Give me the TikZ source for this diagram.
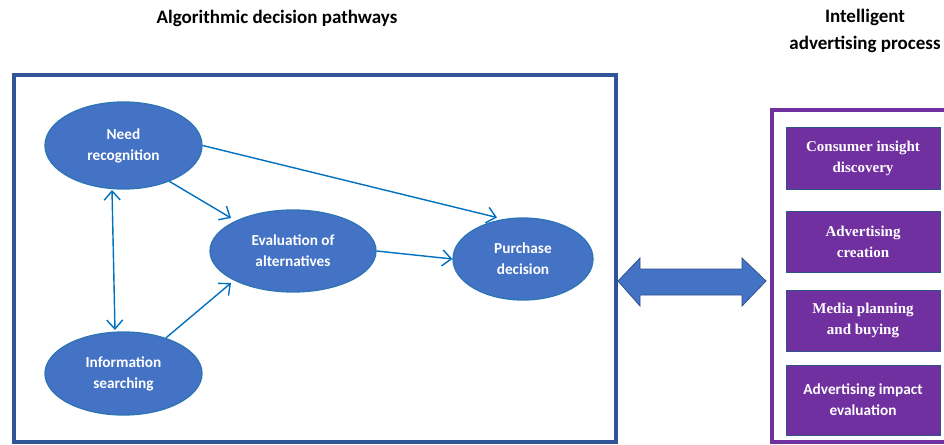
\documentclass[tikz,border=0pt]{standalone}
\usepackage{fontspec}
\setmainfont{Liberation Serif}
\newfontfamily\calib{Carlito}
\usetikzlibrary{arrows.meta,shapes.geometric}
\definecolor{ellfill}{HTML}{4472C4}
\definecolor{ellline}{HTML}{2E75B6}
\definecolor{arrblue}{HTML}{0070C0}
\definecolor{boxblue}{HTML}{2F5597}
\definecolor{purp}{HTML}{7030A0}
\definecolor{darkout}{HTML}{2F528F}
\tikzset{
  stage/.style={ellipse, fill=ellfill, draw=ellline, line width=1.3pt, text=white,
     font=\calib\bfseries\fontsize{15.3}{21}\selectfont, align=center, inner sep=0pt},
  flow/.style={draw=arrblue, line width=1.4pt, -{Straight Barb[length=9pt,width=16pt,line width=1.4pt]}},
  flowboth/.style={draw=arrblue, line width=1.4pt, {Straight Barb[length=9pt,width=16pt,line width=1.4pt]}-{Straight Barb[length=9pt,width=16pt,line width=1.4pt]}},
  adbox/.style={rectangle, fill=purp, draw=darkout, line width=0.8pt, text=white,
     minimum width=154pt, align=center, inner sep=0pt},
  title/.style={font=\calib\bfseries\fontsize{19}{27}\selectfont, align=center, text=black}
}
\begin{document}
\begin{tikzpicture}[x=1pt,y=-1pt]
\clip (0,0) rectangle (944,444);
\fill[white] (0,0) rectangle (944,444);
% titles
\node[title] (t1) at (277,18) {Algorithmic decision pathways};
\node[title] (t2) at (865,31) {Intelligent\\advertising process};
% containers
\draw[boxblue, line width=4pt] (13.5,74.5) rectangle (616,442);
\draw[purp, line width=4pt] (772,110) rectangle (950,442);
% stages
\node[stage, minimum width=157pt, minimum height=87pt] (need) at (123.5,145.5) {Need\\recognition};
\node[stage, minimum width=166pt, minimum height=82pt] (eval) at (293,251) {Evaluation of\\alternatives};
\node[stage, minimum width=157pt, minimum height=83pt] (info) at (123.5,373.5) {Information\\searching};
\node[stage, minimum width=140pt, minimum height=82pt] (purch) at (523,259) {Purchase\\decision};
% connectors
\draw[flow] (need.east) -- (497,217.5) coordinate (p1);
\draw[flow] (need.-38) -- (231,218);
\draw[flowboth] (112,190) -- (115,330);
\draw[flow] (info.40) -- (231,283);
\draw[flow] (eval.east) -- (purch.west);
% big double arrow
\draw[fill=ellfill, draw=darkout, line width=0.8pt]
  (618,281) -- (640,258) -- (640,269) -- (742,269) -- (742,258) -- (766,281)
  -- (742,306) -- (742,295) -- (640,295) -- (640,306) -- cycle;
% advertising steps
\node[adbox, minimum height=62pt, font=\bfseries\fontsize{15}{21}\selectfont] (a1) at (863,158) {Consumer insight\\discovery};
\node[adbox, minimum height=61pt, font=\bfseries\fontsize{15}{21}\selectfont] (a2) at (863,241.5) {Advertising\\creation};
\node[adbox, minimum height=61pt, font=\bfseries\fontsize{15}{21}\selectfont] (a3) at (863,320.5) {Media planning\\and buying};
\node[adbox, minimum height=70pt, font=\calib\bfseries\fontsize{15.3}{21}\selectfont] (a4) at (863,400) {Advertising impact\\evaluation};
\end{tikzpicture}
\end{document}
